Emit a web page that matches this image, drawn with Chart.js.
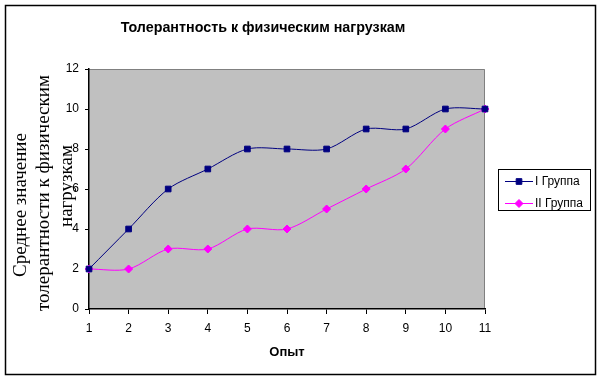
<!DOCTYPE html>
<html><head><meta charset="utf-8">
<script src="https://cdn.jsdelivr.net/npm/chart.js@4"></script>
<style>html,body{margin:0;padding:0;background:#fff}#w{width:601px;height:381px}</style>
</head><body><div id="w"><canvas id="c" width="601" height="381"></canvas></div>
<script>
const categories = ['1','2','3','4','5','6','7','8','9','10','11'];
const group1 = [2,4,6,7,8,8,8,9,9,10,10];
const group2 = [2,2,3,3,4,4,5,6,7,9,10];
const seriesNames = ['I Группа','II Группа'];
const yTicks = [0,2,4,6,8,10,12];
const chartTitle = 'Толерантность к физическим нагрузкам';
const xTitle = 'Опыт';
const yTitleLines = ['Среднее значение','толерантности к физическим','нагрузкам'];

const NAVY = '#000080', MAG = '#FF00FF';

const deco = {
  id: 'deco',
  beforeDraw(chart) {
    const {ctx, chartArea: a} = chart;
    ctx.save();
    ctx.fillStyle = '#fff';
    ctx.fillRect(0, 0, chart.width, chart.height);
    ctx.fillStyle = '#C0C0C0';
    ctx.fillRect(a.left, a.top, a.right - a.left, a.bottom - a.top);
    ctx.strokeStyle = '#808080';
    ctx.lineWidth = 1;
    ctx.beginPath();
    ctx.moveTo(a.left, a.top + 0.5);
    ctx.lineTo(a.right - 0.5, a.top + 0.5);
    ctx.lineTo(a.right - 0.5, a.bottom);
    ctx.stroke();
    ctx.restore();
  },
  afterDraw(chart) {
    const {ctx, chartArea: a} = chart;
    ctx.save();
    // outer border
    ctx.strokeStyle = '#000';
    ctx.lineWidth = 1.5;
    ctx.strokeRect(5.5, 5.5, 590, 369);
    // chart title
    ctx.fillStyle = '#000';
    ctx.font = 'bold 14.3px "Liberation Sans", Arial, sans-serif';
    ctx.textAlign = 'center';
    ctx.textBaseline = 'middle';
    ctx.fillText(chartTitle, 263, 28);
    // y title
    ctx.font = '19px "Liberation Serif", "Times New Roman", serif';
    const xs = [21, 44, 67];
    const ys = [205, 193, 186];
    yTitleLines.forEach((t, i) => {
      ctx.save();
      ctx.translate(xs[i], ys[i]);
      ctx.rotate(-Math.PI / 2);
      ctx.fillText(t, 0, 0);
      ctx.restore();
    });
    // legend
    ctx.lineWidth = 1;
    ctx.strokeStyle = '#000';
    ctx.strokeRect(498.5, 169.5, 92, 41);
    const items = [{c: NAVY, s: 'rect', y: 181}, {c: MAG, s: 'rectRot', y: 203}];
    ctx.font = '12px "Liberation Sans", Arial, sans-serif';
    ctx.textAlign = 'left';
    items.forEach((it, i) => {
      ctx.strokeStyle = it.c;
      ctx.beginPath();
      ctx.moveTo(505, it.y + 0.5);
      ctx.lineTo(533, it.y + 0.5);
      ctx.stroke();
      ctx.fillStyle = it.c;
      Chart.helpers.drawPoint(ctx, {pointStyle: it.s, radius: 4, rotation: 0, borderWidth: 1}, 519, it.y + 0.5);
      ctx.fillStyle = '#000';
      ctx.fillText(seriesNames[i], 535, it.y + 1);
    });
    ctx.restore();
  }
};

new Chart(document.getElementById('c'), {
  type: 'line',
  data: {
    labels: categories,
    datasets: [
      {label: seriesNames[0], data: group1, borderColor: NAVY, backgroundColor: NAVY,
       borderWidth: 1, pointStyle: 'rect', pointRadius: 4, pointBorderWidth: 1, tension: 0.3},
      {label: seriesNames[1], data: group2, borderColor: MAG, backgroundColor: MAG,
       borderWidth: 1, pointStyle: 'rectRot', pointRadius: 4, pointBorderWidth: 1, tension: 0.3}
    ]
  },
  options: {
    responsive: false,
    animation: false,
    devicePixelRatio: 1,
    layout: {padding: {left: 0, right: 116, top: 69, bottom: 0}},
    plugins: {
      legend: {display: false},
      tooltip: {enabled: false},
      title: {display: false}
    },
    scales: {
      x: {
        offset: false,
        grid: {display: true, drawOnChartArea: false, drawTicks: true, tickLength: 5, color: '#000', lineWidth: 1},
        border: {display: true, color: '#000', width: 1.5},
        ticks: {color: '#000', font: {family: '"Liberation Sans", Arial, sans-serif', size: 12}, padding: 7, maxRotation: 0, autoSkip: false},
        title: {display: true, text: xTitle, color: '#000', font: {family: '"Liberation Sans", Arial, sans-serif', size: 13, weight: 'bold'}, padding: {top: 0, bottom: 21}},
        afterFit(s) { s.height = 72; }
      },
      y: {
        min: 0, max: 12,
        afterBuildTicks(s) { s.ticks = yTicks.map(v => ({value: v})); },
        grid: {display: true, drawOnChartArea: false, drawTicks: true, tickLength: 4, color: '#000', lineWidth: 1},
        border: {display: true, color: '#000', width: 1.5},
        ticks: {color: '#000', font: {family: '"Liberation Sans", Arial, sans-serif', size: 12}, padding: 6},
        afterFit(s) { s.width = 89; }
      }
    }
  },
  plugins: [deco]
});
</script>
</body></html>
